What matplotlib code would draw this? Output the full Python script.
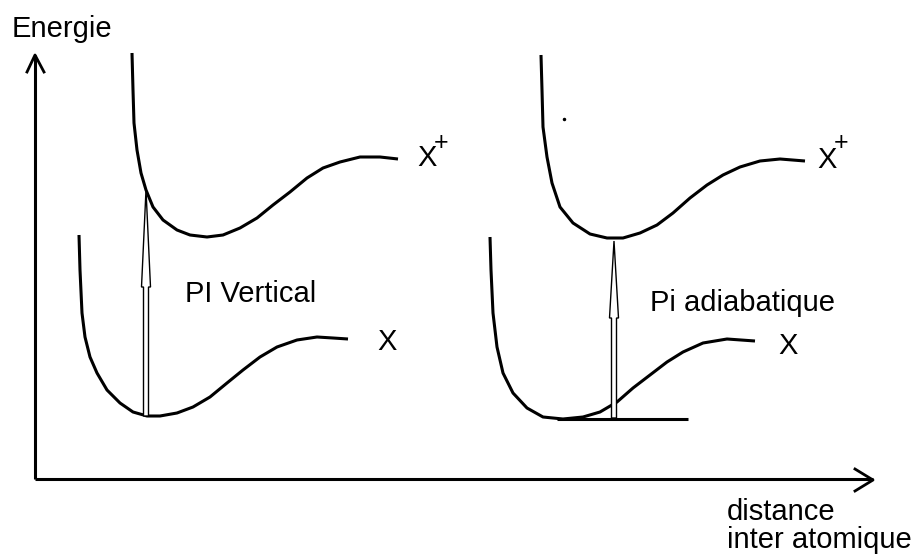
import matplotlib.pyplot as plt
from matplotlib.patches import FancyArrow

plt.rcParams["font.family"] = ["Liberation Sans", "DejaVu Sans"]

# Potential curves (pixel units, y pointing down)
left_ion_x = [132, 133, 134, 137, 141, 146, 153, 163, 177, 190, 207, 223, 240, 257, 273, 290, 307, 323, 340, 360, 380, 398]
left_ion_y = [53, 90, 123, 150, 173, 190, 207, 220, 230, 235, 237, 235, 228, 218, 205, 192, 178, 168, 162, 157, 157, 159]

left_neutral_x = [79, 80, 82, 85, 90, 97, 107, 120, 133, 147, 160, 177, 193, 210, 227, 243, 260, 277, 297, 317, 333, 348]
left_neutral_y = [235, 270, 313, 337, 357, 373, 390, 403, 412, 416, 416, 413, 407, 397, 383, 370, 357, 347, 340, 337, 338, 339]

right_ion_x = [541, 542, 543, 547, 552, 560, 573, 590, 607, 623, 640, 657, 673, 690, 707, 723, 740, 760, 780, 805]
right_ion_y = [55, 90, 127, 157, 183, 207, 223, 234, 238, 238, 233, 225, 213, 198, 185, 175, 167, 161, 159, 161]

right_neutral_x = [490, 491, 493, 497, 503, 513, 527, 543, 563, 583, 600, 617, 633, 650, 667, 683, 703, 727, 755]
right_neutral_y = [237, 270, 313, 347, 373, 393, 408, 417, 419, 417, 412, 402, 388, 375, 362, 352, 343, 339, 341]

# ground level line under the adiabatic transition
ground_x = [557, 688]
ground_y = [419, 419]

# vertical transitions: x, bottom, top, head base
arrows = {
    "vertical": (146, 416, 190, 287),
    "adiabatic": (614, 418, 241, 318),
}

fig = plt.figure(figsize=(9.16, 5.58), dpi=100)
ax = fig.add_axes([0, 0, 1, 1])
ax.set_xlim(0, 916)
ax.set_ylim(558, 0)
ax.axis("off")

line_kw = dict(color="black", lw=2.2, solid_capstyle="butt", solid_joinstyle="round")

# axes with open arrow heads
ax.plot([35, 35], [479, 55], **line_kw)
ax.plot([27, 35, 44], [72, 55, 72], color="black", lw=2.0)
ax.plot([35, 873], [479, 479], **line_kw)
ax.plot([855, 873, 855], [469, 480, 491], color="black", lw=2.0)

ax.plot(left_ion_x, left_ion_y, **line_kw)
ax.plot(left_neutral_x, left_neutral_y, **line_kw)
ax.plot(right_ion_x, right_ion_y, **line_kw)
ax.plot(right_neutral_x, right_neutral_y, **line_kw)
ax.plot(ground_x, ground_y, **line_kw)

for x, y0, y1, yb in arrows.values():
    ax.add_patch(FancyArrow(x, y0, 0, y1 - y0, width=5, head_width=9,
                            head_length=yb - y1, length_includes_head=True,
                            fc="white", ec="black", lw=1.0, zorder=3))

# small speck in the scan
ax.plot([564], [119], marker="o", ms=1.5, color="black")

fs = 21
ax.text(12, 37, "Energie", fontsize=fs, va="baseline")
ax.text(185, 302, "PI Vertical", fontsize=fs, va="baseline")
ax.text(650, 311, "Pi adiabatique", fontsize=fs, va="baseline")
ax.text(377, 350, "X", fontsize=fs, va="baseline")
ax.text(778, 354, "X", fontsize=fs, va="baseline")
ax.text(417, 166, "X", fontsize=fs, va="baseline")
ax.text(441, 143, "+", fontsize=18, ha="center", va="center")
ax.text(817, 168, "X", fontsize=fs, va="baseline")
ax.text(841, 143, "+", fontsize=18, ha="center", va="center")
ax.text(727, 520, "distance", fontsize=fs, va="baseline")
ax.text(727, 548, "inter atomique", fontsize=fs, va="baseline")

fig.savefig("out.png", dpi=100)
